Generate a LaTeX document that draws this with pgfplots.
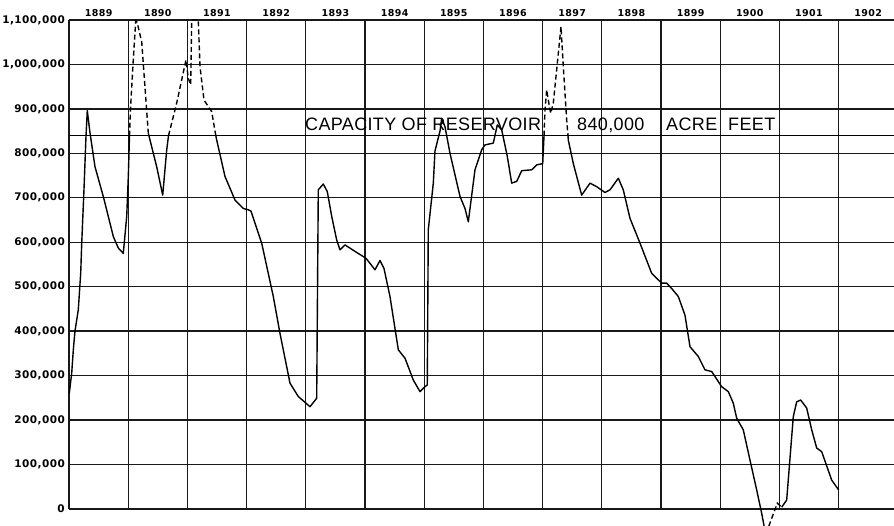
\documentclass[border=0pt]{standalone}
\usepackage{fontspec}
\usepackage{pgfplots}
\pgfplotsset{compat=1.18}
\setmainfont{DejaVu Sans}
\newfontfamily\numfont{DejaVu Sans}[LetterSpace=4]
\newfontfamily\capfont{Liberation Sans}[LetterSpace=2]
\begin{document}
\begin{tikzpicture}
\begin{axis}[
  scale only axis, width=825pt, height=505pt,
  xmin=1889, xmax=1902.936, ymin=-36100, ymax=1100000,
  clip=false,
  axis line style={draw=none},
  major tick length=0pt,
  xtick={1889.5,1890.5,1891.5,1892.5,1893.5,1894.5,1895.5,1896.5,1897.5,1898.5,1899.5,1900.5,1901.5,1902.5},
  xticklabels={1889,1890,1891,1892,1893,1894,1895,1896,1897,1898,1899,1900,1901,1902},
  xticklabel pos=upper,
  xticklabel style={anchor=base, inner sep=0pt, yshift=3.3pt, font=\numfont\bfseries\fontsize{9.5}{9.5}\selectfont},
  ytick={0,100000,200000,300000,400000,500000,600000,700000,800000,900000,1000000,1100000},
  yticklabels={0,{100,000},{200,000},{300,000},{400,000},{500,000},{600,000},{700,000},{800,000},{900,000},{1,000,000},{1,100,000}},
  yticklabel style={anchor=east, inner sep=0pt, xshift=-4pt, font=\numfont\bfseries\fontsize{10.5}{10.5}\selectfont},
  scaled y ticks=false,
]
% grid
\pgfplotsinvokeforeach{0,100000,200000,300000,400000,500000,600000,700000,800000,900000,1000000,1100000}{
  \draw[black!90, line width=1.35pt] (axis cs:1889,#1) -- (axis cs:1902.936,#1);
}
\pgfplotsinvokeforeach{1889,1890,1891,1892,1893,1894,1895,1896,1897,1898,1899,1900,1901,1902}{
  \draw[black!90, line width=1.35pt] (axis cs:#1,0) -- (axis cs:#1,1100000);
}
\draw[black, line width=1.7pt] (axis cs:1889,840000) -- (axis cs:1902.936,840000);
% capacity text
\node[anchor=base west, inner sep=0pt, font=\capfont\fontsize{18}{18}\selectfont] at (axis cs:1892.986,851000) {CAPACITY OF RESERVOIR};
\node[anchor=base west, inner sep=0pt, font=\capfont\fontsize{18}{18}\selectfont] at (axis cs:1897.581,851000) {840,000};
\node[anchor=base west, inner sep=0pt, font=\capfont\fontsize{18}{18}\selectfont] at (axis cs:1899.085,851000) {ACRE};
\node[anchor=base west, inner sep=0pt, font=\capfont\fontsize{18}{18}\selectfont] at (axis cs:1900.132,851000) {FEET};
% solid A
\addplot[black, line width=1.4pt, line join=round] coordinates {
(1889.005,260000) (1889.046,306000) (1889.073,358000) (1889.101,400000) (1889.157,448000)
(1889.198,531000) (1889.215,598000) (1889.253,718000) (1889.287,838000) (1889.309,896000)
(1889.355,846000) (1889.439,770000) (1889.579,703000) (1889.748,613000) (1889.833,587000)
(1889.917,575000) (1889.975,658000) (1890.002,748000) (1890.022,840000)
};
% dashed B
\addplot[black, line width=1.4pt, dash pattern=on 5pt off 3pt] coordinates {
(1890.022,840000) (1890.039,900000) (1890.081,1000000) (1890.127,1098000) (1890.150,1095000)
(1890.228,1051000) (1890.340,845000)
};
% solid C
\addplot[black, line width=1.4pt, line join=round] coordinates {
(1890.340,845000) (1890.481,770000) (1890.583,706000) (1890.650,807000) (1890.681,840000)
};
% dashed D
\addplot[black, line width=1.4pt, dash pattern=on 5pt off 3pt] coordinates {
(1890.681,840000) (1890.819,913000) (1890.976,1010000) (1891.015,969000) (1891.056,954000)
(1891.073,1100000) (1891.184,1100000) (1891.213,995000) (1891.280,920000) (1891.410,894000)
(1891.480,840000)
};
% solid E
\addplot[black, line width=1.4pt, line join=round] coordinates {
(1891.480,840000) (1891.495,830000) (1891.635,748000) (1891.804,695000) (1891.944,676000)
(1892.029,673000) (1892.074,670000) (1892.255,598000) (1892.451,478000) (1892.564,395000)
(1892.733,283000) (1892.873,253000) (1893.071,230000) (1893.184,249000) (1893.211,718000)
(1893.296,731000) (1893.363,714000) (1893.438,658000) (1893.522,605000) (1893.578,583000)
(1893.662,594000) (1893.860,577000) (1894.017,564000) (1894.169,538000) (1894.253,559000)
(1894.321,541000) (1894.422,478000) (1894.563,358000) (1894.676,339000) (1894.816,290000)
(1894.929,264000) (1895.014,275000) (1895.052,279000) (1895.069,628000) (1895.154,733000)
(1895.182,805000) (1895.267,850000) (1895.296,879000) (1895.351,860000) (1895.436,800000)
(1895.605,703000) (1895.689,676000) (1895.745,646000) (1895.858,763000) (1895.971,808000)
(1896.027,819000) (1896.167,823000) (1896.235,864000) (1896.309,853000) (1896.404,793000)
(1896.478,733000) (1896.563,737000) (1896.647,761000) (1896.816,763000) (1896.900,774000)
(1897.002,777000) (1897.024,840000)
};
% dashed F
\addplot[black, line width=1.4pt, dash pattern=on 5pt off 3pt] coordinates {
(1897.024,840000) (1897.041,898000) (1897.069,943000) (1897.096,920000) (1897.137,890000)
(1897.181,913000) (1897.311,1085000) (1897.350,995000) (1897.407,875000) (1897.429,840000)
};
% solid G
\addplot[black, line width=1.4pt, line join=round] coordinates {
(1897.429,840000) (1897.434,830000) (1897.519,777000) (1897.660,706000) (1897.801,733000)
(1897.914,725000) (1898.054,712000) (1898.139,718000) (1898.279,744000) (1898.363,718000)
(1898.476,654000) (1898.645,598000) (1898.843,530000) (1899.012,508000) (1899.096,508000)
(1899.186,495000) (1899.292,478000) (1899.405,436000) (1899.490,365000) (1899.630,343000)
(1899.743,313000) (1899.857,309000) (1900.025,275000) (1900.137,264000) (1900.221,238000)
(1900.279,204000) (1900.390,178000) (1900.503,110000) (1900.616,43000) (1900.701,-10000)
(1900.765,-55000)
};
% dashed H
\addplot[black, line width=1.4pt, dash pattern=on 5pt off 3pt] coordinates {
(1900.765,-55000) (1900.829,-36000) (1900.965,13000) (1901.039,4000)
};
% solid I
\addplot[black, line width=1.4pt, line join=round] coordinates {
(1901.039,4000) (1901.123,20000) (1901.235,208000) (1901.292,241000) (1901.360,245000)
(1901.461,227000) (1901.546,178000) (1901.630,137000) (1901.714,129000) (1901.883,65000)
(1902.000,43000)
};
\coordinate (BL) at (axis cs:1889,-36100);
\coordinate (TR) at (axis cs:1902.936,1100000);
\end{axis}
\pgfresetboundingbox
\path[use as bounding box] ([xshift=-69pt]BL) rectangle ([yshift=20pt]TR);
\end{tikzpicture}
\end{document}
